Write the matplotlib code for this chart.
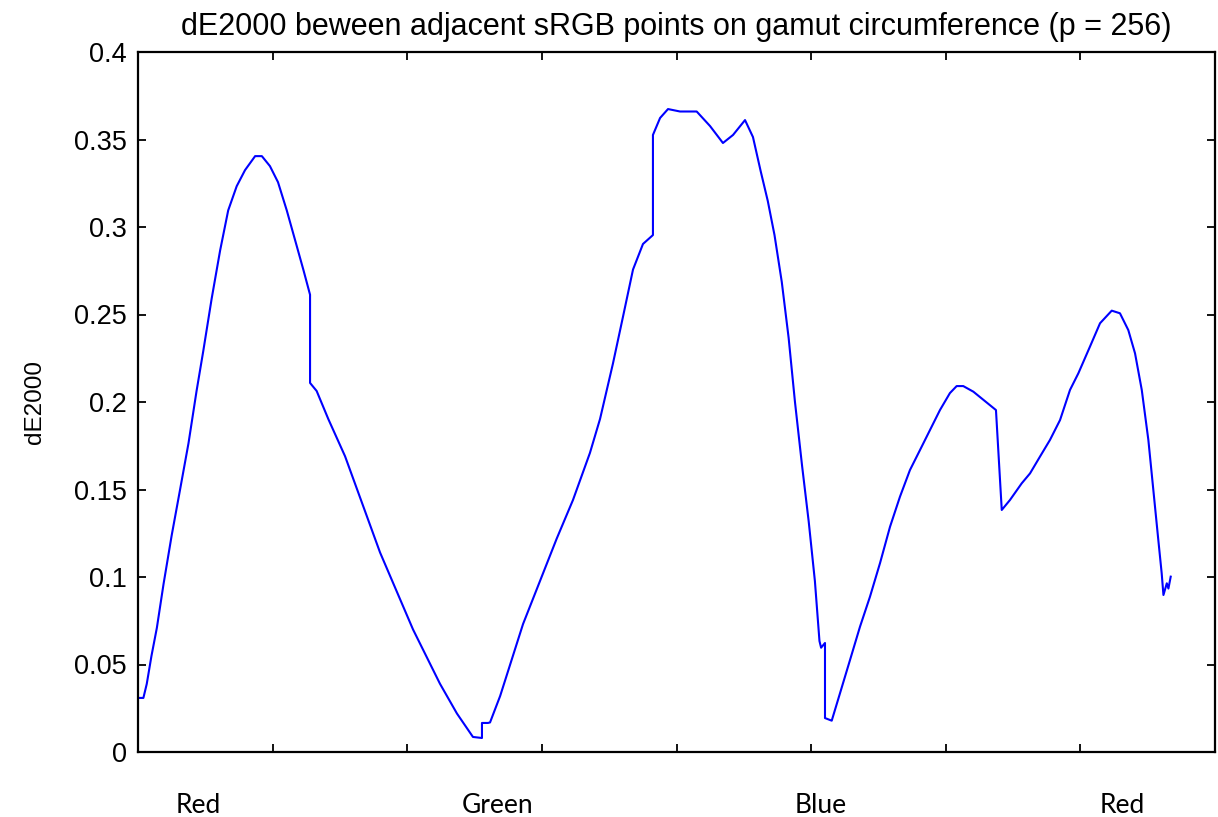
import matplotlib
matplotlib.use("Agg")
import matplotlib.pyplot as plt
import numpy as np

# sample index along the gamut circumference (3 * 256 points) and dE2000
idx = [0, 4, 6.5, 10, 14, 19, 25, 31, 37.5, 43.5, 48.5, 54.7, 61, 67, 73.3, 79.5, 87, 92, 98,
       104, 110.5, 118, 123, 127.8, 127.8, 132.7, 141.4, 153.8, 179.8, 204.3, 224.3, 236.9,
       248.8, 255.5, 255.5, 260, 261.5, 269, 286, 298.6, 311, 323.1, 335.7, 343.2, 352.8,
       360.3, 367.7, 375.1, 382.5, 382.5, 387.8, 393.7, 402.6, 415, 424.9, 434.5, 442, 450.9,
       456.8, 462.5, 467.8, 472.8, 478.2, 483.3, 488, 493.3, 498.2, 502.8, 506.2, 507.4, 510.3,
       510.3, 515.3, 521.5, 528.9, 536.3, 543.7, 551.2, 558.6, 566, 573.4, 580.9, 588.3, 595.7,
       603.1, 608.1, 613, 620.5, 637.3, 641.6, 647.7, 656.4, 662.6, 670, 677.4, 684.9, 692.3,
       698.5, 707.1, 714.6, 723.3, 729.4, 735.6, 740.6, 745.6, 750.5, 754.2, 757.9, 760.4,
       761.7, 764.2, 765.4, 767.1]
de2000 = [0.0309, 0.0309, 0.0389, 0.0549, 0.0709, 0.0961, 0.1237, 0.1489, 0.1764, 0.2063,
          0.2292, 0.259, 0.2866, 0.3095, 0.3233, 0.3325, 0.3405, 0.3405, 0.3348, 0.3256,
          0.3095, 0.2889, 0.2751, 0.2613, 0.2109, 0.2063, 0.1902, 0.169, 0.114, 0.070, 0.039,
          0.022, 0.0086, 0.008, 0.0166, 0.0166, 0.0169, 0.032, 0.0731, 0.0977, 0.1219, 0.144,
          0.1709, 0.1903, 0.222, 0.2489, 0.2757, 0.2903, 0.2954, 0.3526, 0.3623, 0.3674, 0.366,
          0.366, 0.3577, 0.348, 0.3526, 0.3611, 0.3514, 0.332, 0.3149, 0.2954, 0.2686, 0.2366,
          0.2, 0.1634, 0.1317, 0.0977, 0.0634, 0.0596, 0.0623, 0.0194, 0.0179, 0.0337, 0.0526,
          0.0716, 0.0887, 0.108, 0.1287, 0.1459, 0.1611, 0.1726, 0.184, 0.1954, 0.2051, 0.2091,
          0.2091, 0.2059, 0.1954, 0.1383, 0.144, 0.1535, 0.1592, 0.1688, 0.1783, 0.1897, 0.2069,
          0.2164, 0.2316, 0.245, 0.2522, 0.2507, 0.2411, 0.2278, 0.2069, 0.1783, 0.1497, 0.1211,
          0.1021, 0.0897, 0.0964, 0.0934, 0.1002]

color_names = ["Red", "Green", "Blue", "Red"]
color_pos = [45, 267, 507, 731]
ytick_vals = [0, 0.05, 0.1, 0.15, 0.2, 0.25, 0.3, 0.35, 0.4]
ytick_labels = ["0", "0.05", "0.1", "0.15", "0.2", "0.25", "0.3", "0.35", "0.4"]

plt.rcParams['font.family'] = ['Liberation Sans', 'DejaVu Sans']

fig = plt.figure(figsize=(12.18, 8.17), dpi=100)
ax = fig.add_axes([138/1218, 65/817, 1077/1218, 700/817])

ax.plot(idx, de2000, color=(0, 0, 1), lw=1.5)

ax.set_xlim(0, 800)
ax.set_ylim(0, 0.4)
ax.set_xticks(np.arange(0, 801, 100))
ax.set_xticklabels([])
ax.set_yticks(ytick_vals)
ax.set_yticklabels(ytick_labels, fontsize=19.5)
ax.tick_params(direction='in', length=6, width=1.3, top=True, right=True, pad=8)
for s in ax.spines.values():
    s.set_linewidth(1.6)

ax.set_ylabel("dE2000", fontsize=17.5, labelpad=20)
ax.set_title("dE2000 beween adjacent sRGB points on gamut circumference (p = 256)",
             fontsize=22, pad=12)

for name, pos in zip(color_names, color_pos):
    ax.text(pos, -0.0305, name, ha='center', va='center', fontsize=19,
            family=['Lato', 'DejaVu Sans'], transform=ax.transData)

fig.savefig("out.png", dpi=100)
